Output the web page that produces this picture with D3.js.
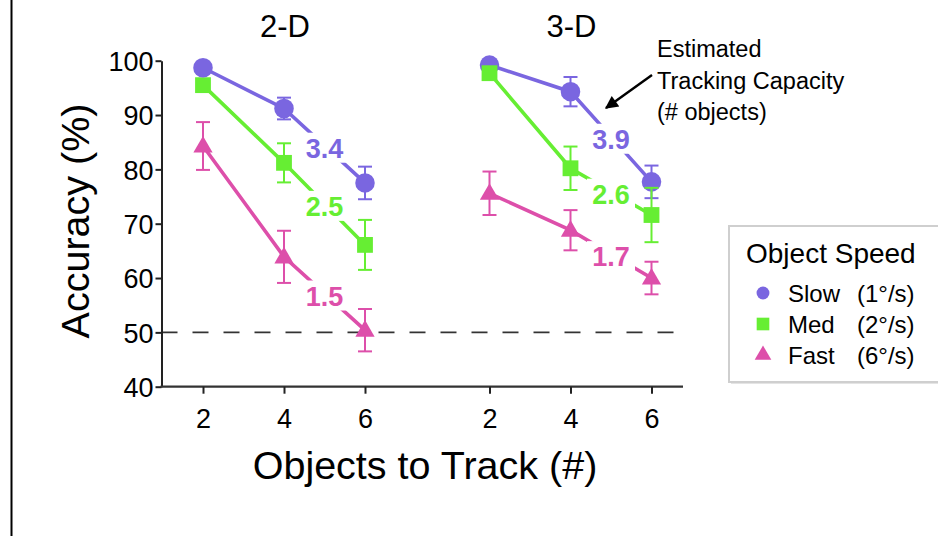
<!DOCTYPE html>
<html>
<head>
<meta charset="utf-8">
<script src="https://cdn.jsdelivr.net/npm/d3@7"></script>
<style>
  body { margin: 0; background: #fff; }
  text { font-family: "Liberation Sans", Arial, sans-serif; }
</style>
</head>
<body>
<div id="chart"></div>
<script>
// data
var panels = ["2-D", "3-D"];
var objects = [2, 4, 6];
var speeds = ["Slow", "Med", "Fast"];
var speedRates = ["(1°/s)", "(2°/s)", "(6°/s)"];
var yTicks = [40, 50, 60, 70, 80, 90, 100];
var chance = 50;

var slow2D = [98.7, 91.2, 77.5];
var slowErr2D = [0.8, 2.0, 3.0];
var med2D = [95.5, 81.2, 66.1];
var medErr2D = [1.0, 3.6, 4.6];
var fast2D = [84.3, 63.9, 50.4];
var fastErr2D = [4.4, 4.8, 3.9];

var slow3D = [99.2, 94.3, 77.7];
var slowErr3D = [0.6, 2.7, 3.0];
var med3D = [97.7, 80.2, 71.6];
var medErr3D = [0.8, 4.0, 5.0];
var fast3D = [75.6, 68.8, 60.0];
var fastErr3D = [4.0, 3.7, 3.0];

var capacity2D = [3.4, 2.5, 1.5];
var capacity3D = [3.9, 2.6, 1.7];

var colors = ["#7a66e0", "#66ee33", "#dd4faa"];
var shapes = [d3.symbolCircle, d3.symbolSquare, d3.symbolTriangle];
var shapeSizes = [300, 250, 160];

var svgWidth = 938;
var svgHeight = 538;

var svg = d3.select("#chart")
    .append("svg")
    .attr("width", svgWidth)
    .attr("height", svgHeight);

// left border line of the original figure
svg.append("line")
    .attr("x1", 11.5).attr("x2", 11.5)
    .attr("y1", 0).attr("y2", 536)
    .attr("stroke", "#000")
    .attr("stroke-width", 2);

var yScale = d3.scaleLinear().domain([40, 100]).range([386.7, 60.7]);
var xScales = [
    d3.scaleLinear().domain([2, 6]).range([203, 365]),
    d3.scaleLinear().domain([2, 6]).range([489.5, 651.5])
];
var axisLeftX = 161.5;
var axisRightX = 683;

var panelData = [
    { values: [slow2D, med2D, fast2D], errs: [slowErr2D, medErr2D, fastErr2D], caps: capacity2D, order: [2, 1, 0] },
    { values: [slow3D, med3D, fast3D], errs: [slowErr3D, medErr3D, fastErr3D], caps: capacity3D, order: [2, 0, 1] }
];

// chance line
svg.append("line")
    .attr("x1", axisLeftX).attr("x2", axisRightX)
    .attr("y1", yScale(chance)).attr("y2", yScale(chance))
    .attr("stroke", "#333")
    .attr("stroke-width", 1.6)
    .attr("stroke-dasharray", "16,15");

// y axis
var leftAxis = d3.axisLeft(yScale).tickValues(yTicks).tickFormat(d3.format("d"))
    .tickSize(6).tickSizeOuter(0).tickPadding(2);
var yAxis = svg.append("g")
    .attr("transform", `translate(${axisLeftX},0)`)
    .call(leftAxis);
yAxis.attr("font-family", null).attr("font-size", null);
yAxis.selectAll("text").attr("font-size", "27px").attr("fill", "#000").attr("dy", "0.36em");
yAxis.selectAll("line, path").attr("stroke", "#222").attr("stroke-width", 2);

// x axes
svg.append("line")
    .attr("x1", axisLeftX - 1).attr("x2", axisRightX)
    .attr("y1", 386.7).attr("y2", 386.7)
    .attr("stroke", "#333")
    .attr("stroke-width", 2.2);

xScales.forEach(function(xs) {
    var bottomAxis = d3.axisBottom(xs).tickValues(objects).tickFormat(d3.format("d"))
        .tickSize(7).tickPadding(15);
    var g = svg.append("g")
        .attr("transform", "translate(0,386.7)")
        .call(bottomAxis);
    g.attr("font-family", null).attr("font-size", null);
    g.select(".domain").remove();
    g.selectAll("line").attr("stroke", "#222").attr("stroke-width", 2);
    g.selectAll("text").attr("font-size", "27px").attr("fill", "#000");
});

// panel titles
panels.forEach(function(p, i) {
    svg.append("text")
        .attr("x", xScales[i](4) + 1)
        .attr("y", 37)
        .attr("text-anchor", "middle")
        .attr("font-size", "31px")
        .text(p);
});

// axis titles
svg.append("text")
    .attr("x", 425)
    .attr("y", 479)
    .attr("text-anchor", "middle")
    .attr("font-size", "39.5px")
    .text("Objects to Track (#)");

svg.append("text")
    .attr("transform", "translate(89,221) rotate(-90)")
    .attr("text-anchor", "middle")
    .attr("font-size", "39.5px")
    .text("Accuracy (%)");

// series lines
var line = d3.line();
panelData.forEach(function(pd, pi) {
    var xs = xScales[pi];
    pd.values.forEach(function(vals, si) {
        svg.append("path")
            .attr("d", line(objects.map(function(o, k) { return [xs(o), yScale(vals[k])]; })))
            .attr("fill", "none")
            .attr("stroke", colors[si])
            .attr("stroke-width", 3.6);
    });
});

// capacity labels break the 4-6 segment
panelData.forEach(function(pd, pi) {
    var xs = xScales[pi];
    pd.values.forEach(function(vals, si) {
        var cx = xs(5);
        var cy = yScale((vals[1] + vals[2]) / 2) + 2;
        svg.append("rect")
            .attr("x", cx - 24).attr("y", cy - 15)
            .attr("width", 48).attr("height", 30)
            .attr("fill", "#fff");
        svg.append("text")
            .attr("x", cx)
            .attr("y", cy + 10)
            .attr("text-anchor", "middle")
            .attr("font-size", "27px")
            .attr("font-weight", "bold")
            .attr("fill", colors[si])
            .text(pd.caps[si].toFixed(1));
    });
});

// error bars and markers
panelData.forEach(function(pd, pi) {
    var xs = xScales[pi];
    pd.order.forEach(function(si) {
        var vals = pd.values[si];
        var errs = pd.errs[si];
        var g = svg.append("g");
        objects.forEach(function(o, k) {
            var x = xs(o);
            var y0 = yScale(vals[k] - errs[k]);
            var y1 = yScale(vals[k] + errs[k]);
            g.append("line").attr("x1", x).attr("x2", x).attr("y1", y0).attr("y2", y1)
                .attr("stroke", colors[si]).attr("stroke-width", 2);
            [y0, y1].forEach(function(yy) {
                g.append("line").attr("x1", x - 7).attr("x2", x + 7).attr("y1", yy).attr("y2", yy)
                    .attr("stroke", colors[si]).attr("stroke-width", 2);
            });
            g.append("path")
                .attr("d", d3.symbol().type(shapes[si]).size(shapeSizes[si])())
                .attr("transform", `translate(${x},${yScale(vals[k]) + (si === 2 ? 1 : 0)})`)
                .attr("fill", colors[si]);
        });
    });
});

// annotation
svg.append("defs").append("marker")
    .attr("id", "arrow")
    .attr("viewBox", "0 0 10 10")
    .attr("refX", 9).attr("refY", 5)
    .attr("markerWidth", 15).attr("markerHeight", 13)
    .attr("markerUnits", "userSpaceOnUse")
    .attr("orient", "auto")
    .append("path")
    .attr("d", "M0,0 L10,5 L0,10 z")
    .attr("fill", "#000");

svg.append("line")
    .attr("x1", 652).attr("y1", 75)
    .attr("x2", 606).attr("y2", 108)
    .attr("stroke", "#000")
    .attr("stroke-width", 2.4)
    .attr("marker-end", "url(#arrow)");

["Estimated", "Tracking Capacity", "(# objects)"].forEach(function(t, i) {
    svg.append("text")
        .attr("x", 657)
        .attr("y", 57 + i * 31.5)
        .attr("font-size", "23.5px")
        .text(t);
});

// legend
var legend = svg.append("g");
legend.append("rect")
    .attr("x", 731).attr("y", 228)
    .attr("width", 230).attr("height", 156)
    .attr("fill", "#e4e4e4");
legend.append("rect")
    .attr("x", 729).attr("y", 226)
    .attr("width", 230).attr("height", 156)
    .attr("fill", "#fff")
    .attr("stroke", "#cfcfcf")
    .attr("stroke-width", 2);
legend.append("text")
    .attr("x", 746).attr("y", 263)
    .attr("font-size", "28px")
    .text("Object Speed");
speeds.forEach(function(s, i) {
    var yy = 293 + i * 31;
    legend.append("path")
        .attr("d", d3.symbol().type(shapes[i]).size([130, 160, 120][i])())
        .attr("transform", `translate(763,${yy})`)
        .attr("fill", colors[i]);
    legend.append("text")
        .attr("x", 788).attr("y", yy + 8.5)
        .attr("font-size", "24px")
        .text(s);
    legend.append("text")
        .attr("x", 857).attr("y", yy + 8.5)
        .attr("font-size", "24px")
        .text(speedRates[i]);
});
</script>
</body>
</html>
